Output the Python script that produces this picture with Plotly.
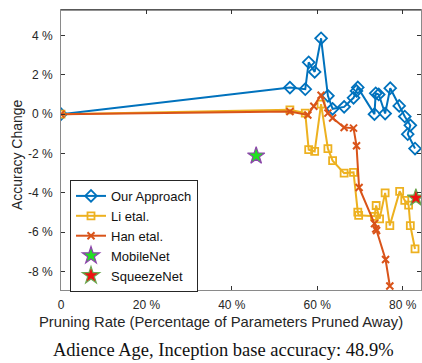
import plotly.graph_objects as go

# Pruning rate (%) vs. accuracy change (%) for each method
ours_x = [0, 53.6, 57.2, 58.0, 59.4, 60.9, 62.5, 63.6, 66.3, 68.5, 69.2, 69.5,
          73.4, 73.7, 74.4, 75.9, 77.1, 79.2, 80.5, 81.8, 81.2, 82.9]
ours_y = [0, 1.35, 1.27, 2.64, 2.15, 3.86, 0.93, 0.27, 0.37, 0.83, 1.18, 1.36,
          0.0, 1.06, 1.0, 0.03, 1.32, 0.42, -0.12, -0.57, -1.02, -1.75]

li_x = [0, 53.6, 57.2, 58.0, 59.4, 60.9, 62.5, 63.6, 66.3, 68.5, 69.5, 69.7,
        73.4, 73.8, 74.6, 75.9, 77.0, 79.3, 80.5, 81.4, 81.8, 82.9]
li_y = [0, 0.22, 0.05, -1.81, -1.90, 0.51, -1.76, -2.37, -3.0, -2.96, -4.99, -5.15,
        -5.20, -4.65, -5.33, -4.01, -5.67, -3.93, -4.39, -4.63, -5.67, -6.86]

han_x = [0, 53.6, 57.8, 59.2, 60.9, 62.5, 63.6, 66.3, 68.5, 69.2, 69.8,
         73.4, 73.7, 73.9, 76.0, 77.0]
han_y = [0, 0.13, -0.04, 0.40, 0.96, 0.05, -0.2, -0.68, -0.71, -1.61, -3.73,
         -5.57, -5.84, -5.92, -7.40, -8.75]

mobilenet_x = [45.7]
mobilenet_y = [-2.12]
squeezenet_x = [83.1]
squeezenet_y = [-4.26]

x_ticks = [0, 20, 40, 60, 80]
x_tick_text = ["0", "20 %", "40 %", "60 %", "80 %"]
y_ticks = [-8, -6, -4, -2, 0, 2, 4]
y_tick_text = ["-8 %", "-6 %", "-4 %", "-2 %", "0 %", "2 %", "4 %"]

BLUE = "#0072BD"
ORANGE = "#D95319"
YELLOW = "#EDB120"
SANS = "Liberation Sans, Arial, sans-serif"

fig = go.Figure()
fig.add_trace(go.Scatter(
    x=ours_x, y=ours_y, name="Our Approach", mode="lines+markers",
    line=dict(color=BLUE, width=2),
    marker=dict(symbol="diamond-open", size=9, color=BLUE, line=dict(width=1.8, color=BLUE)),
))
fig.add_trace(go.Scatter(
    x=li_x, y=li_y, name="Li etal.", mode="lines+markers",
    line=dict(color=YELLOW, width=2),
    marker=dict(symbol="square-open", size=7, color=YELLOW, line=dict(width=1.8, color=YELLOW)),
))
fig.add_trace(go.Scatter(
    x=han_x, y=han_y, name="Han etal.", mode="lines+markers",
    line=dict(color=ORANGE, width=2),
    marker=dict(symbol="x-thin-open", size=7, color=ORANGE, line=dict(width=2, color=ORANGE)),
))
fig.add_trace(go.Scatter(
    x=mobilenet_x, y=mobilenet_y, name="MobileNet", mode="markers",
    marker=dict(symbol="star", size=13, color="#22e022", line=dict(width=1.2, color="#8e44ad")),
))
fig.add_trace(go.Scatter(
    x=squeezenet_x, y=squeezenet_y, name="SqueezeNet", mode="markers",
    marker=dict(symbol="star", size=13, color="#ee1111", line=dict(width=1.2, color="#6aa84f")),
))

axis_common = dict(
    showgrid=False, zeroline=False, showline=True, linecolor="#8a8a8a", linewidth=1,
    ticks="inside", ticklen=4, tickwidth=1, tickcolor="#333333", mirror="ticks",
    tickfont=dict(family=SANS, size=12, color="#262626"),
)

fig.update_xaxes(range=[0, 84.3], tickvals=x_ticks, ticktext=x_tick_text,
                 ticklabelstandoff=4, **axis_common)
fig.update_yaxes(range=[-8.95, 5.3], tickvals=y_ticks, ticktext=y_tick_text,
                 ticklabelstandoff=5, **axis_common)

# dark top border of the axes box
fig.add_shape(type="line", xref="paper", yref="paper", x0=0, x1=1, y0=1, y1=1,
              line=dict(color="#262626", width=1))

fig.update_layout(
    width=422, height=363,
    margin=dict(l=61, r=1, t=10, b=73),
    paper_bgcolor="white", plot_bgcolor="white",
    showlegend=True,
    legend=dict(
        x=0.025, y=0.393, xanchor="left", yanchor="top",
        bgcolor="white", bordercolor="#262626", borderwidth=1,
        font=dict(family=SANS, size=13, color="#111111"),
        tracegroupgap=0, itemwidth=30,
    ),
    annotations=[
        dict(text="Accuracy Change", xref="paper", yref="paper", x=-0.122, y=0.482,
             textangle=-90, showarrow=False, xanchor="center", yanchor="middle",
             font=dict(family=SANS, size=14, color="#262626")),
        dict(text="Pruning Rate (Percentage of Parameters Pruned Away)", xref="paper", yref="paper",
             x=0.444, y=-0.114, showarrow=False, xanchor="center", yanchor="middle",
             font=dict(family=SANS, size=14.8, color="#262626")),
        dict(text="Adience Age, Inception base accuracy: 48.9%", xref="paper", yref="paper",
             x=0.45, y=-0.214, showarrow=False, xanchor="center", yanchor="middle",
             font=dict(family="Liberation Serif, Times New Roman, serif", size=18.5, color="#111111")),
    ],
)

fig.write_html("out.html")
